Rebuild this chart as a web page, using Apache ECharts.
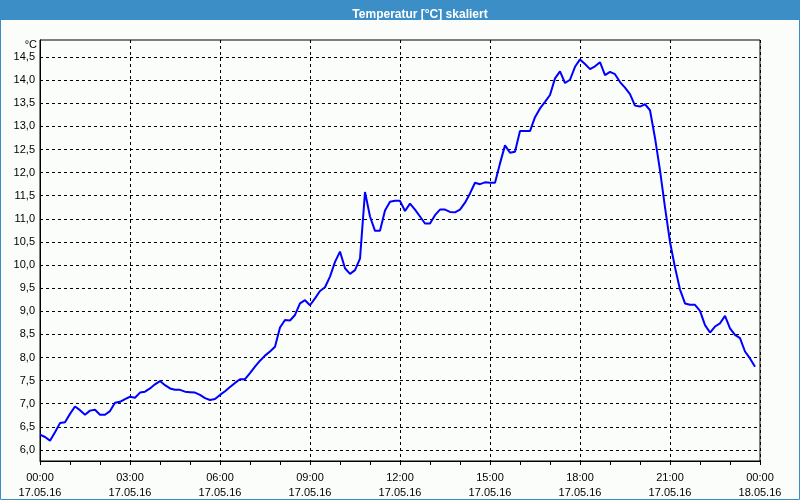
<!DOCTYPE html>
<html>
<head>
<meta charset="utf-8">
<script src="https://cdn.jsdelivr.net/npm/echarts@6/dist/echarts.min.js"></script>
<style>
html,body{margin:0;padding:0;background:#fbfdfb;}
#chart{width:800px;height:500px;}
</style>
</head>
<body>
<div id="chart"></div>
<script>
var titleText = 'Temperatur [°C] skaliert';
var yUnit = '°C';
var times = [
'00:00','00:10','00:20','00:30','00:40','00:50',
'01:00','01:10','01:20','01:30','01:40','01:50',
'02:00','02:10','02:20','02:30','02:40','02:50',
'03:00','03:10','03:20','03:30','03:40','03:50',
'04:00','04:10','04:20','04:30','04:40','04:50',
'05:00','05:10','05:20','05:30','05:40','05:50',
'06:00','06:10','06:20','06:30','06:40','06:50',
'07:00','07:10','07:20','07:30','07:40','07:50',
'08:00','08:10','08:20','08:30','08:40','08:50',
'09:00','09:10','09:20','09:30','09:40','09:50',
'10:00','10:10','10:20','10:30','10:40','10:50',
'11:00','11:10','11:20','11:30','11:40','11:50',
'12:00','12:10','12:20','12:30','12:40','12:50',
'13:00','13:10','13:20','13:30','13:40','13:50',
'14:00','14:10','14:20','14:30','14:40','14:50',
'15:00','15:10','15:20','15:30','15:40','15:50',
'16:00','16:10','16:20','16:30','16:40','16:50',
'17:00','17:10','17:20','17:30','17:40','17:50',
'18:00','18:10','18:20','18:30','18:40','18:50',
'19:00','19:10','19:20','19:30','19:40','19:50',
'20:00','20:10','20:20','20:30','20:40','20:50',
'21:00','21:10','21:20','21:30','21:40','21:50',
'22:00','22:10','22:20','22:30','22:40','22:50',
'23:00','23:10','23:20','23:30','23:40','23:50'
];
var temps = [
6.33,6.28,6.20,6.38,6.58,6.60,
6.78,6.94,6.86,6.76,6.85,6.87,
6.76,6.76,6.84,7.02,7.04,7.10,
7.15,7.13,7.24,7.26,7.33,7.42,
7.49,7.40,7.33,7.30,7.30,7.26,
7.25,7.24,7.19,7.12,7.08,7.10,
7.19,7.27,7.36,7.45,7.53,7.53,
7.66,7.80,7.93,8.04,8.13,8.23,
8.65,8.81,8.80,8.92,9.17,9.24,
9.13,9.28,9.44,9.52,9.75,10.07,
10.29,9.93,9.81,9.89,10.14,11.58,
11.05,10.74,10.74,11.18,11.37,11.39,
11.39,11.17,11.33,11.20,11.05,10.90,
10.90,11.08,11.20,11.20,11.15,11.14,
11.20,11.35,11.55,11.78,11.75,11.79,
11.78,11.78,12.20,12.59,12.43,12.45,
12.90,12.90,12.90,13.20,13.39,13.53,
13.68,14.04,14.19,13.94,14.01,14.29,
14.45,14.35,14.24,14.30,14.39,14.11,
14.18,14.13,13.96,13.84,13.70,13.45,
13.43,13.48,13.35,12.75,12.05,11.25,
10.50,9.95,9.47,9.17,9.14,9.14,
9.01,8.70,8.54,8.67,8.74,8.90,
8.63,8.49,8.42,8.13,7.98,7.80
];
var xTickLabels = [
'00:00\n17.05.16','03:00\n17.05.16','06:00\n17.05.16','09:00\n17.05.16',
'12:00\n17.05.16','15:00\n17.05.16','18:00\n17.05.16','21:00\n17.05.16',
'00:00\n18.05.16'
];
var yTicks = [6.0,6.5,7.0,7.5,8.0,8.5,9.0,9.5,10.0,10.5,11.0,11.5,12.0,12.5,13.0,13.5,14.0,14.5];

function toMin(s){ var p = s.split(':'); return (+p[0])*60 + (+p[1]); }
var seriesData = times.map(function(t,i){ return [toMin(t), temps[i]]; });

var font = 'Liberation Sans, Arial, sans-serif';
var chart = echarts.init(document.getElementById('chart'), null, {renderer:'canvas'});
chart.setOption({
  animation:false,
  backgroundColor:'#fbfdfb',
  title:{
    text:titleText, left:415, top:3, textAlign:'center',
    textStyle:{color:'#ffffff', fontFamily:font, fontSize:12, fontWeight:'bold', lineHeight:14}
  },
  graphic:[
    {type:'rect', z:-1, shape:{x:0,y:0,width:800,height:20}, style:{fill:'#3b8fc6'}},
    {type:'rect', z:-1, shape:{x:0.5,y:0.5,width:799,height:499}, style:{fill:null, stroke:'#3b8fc6', lineWidth:1}}
  ],
  grid:{left:40, right:40, top:40, bottom:39, show:true, borderColor:'#000', borderWidth:1, backgroundColor:'#fbfdfb', containLabel:false, outerBoundsMode:'none'},
  xAxis:{
    type:'value', min:0, max:1440, interval:180,
    axisLine:{show:true, lineStyle:{color:'#000', width:1}},
    axisTick:{show:true, length:4, lineStyle:{color:'#000'}},
    minorTick:{show:true, splitNumber:3, length:4, lineStyle:{color:'#000'}},
    splitLine:{show:true, lineStyle:{color:'#000', type:[3,3], width:1}},
    minorSplitLine:{show:false},
    axisLabel:{
      show:true, margin:9, color:'#000', fontFamily:font, fontSize:11, lineHeight:15,
      showMinLabel:true, showMaxLabel:true, hideOverlap:false,
      formatter:function(v){ return xTickLabels[Math.round(v/180)] || ''; }
    }
  },
  yAxis:{
    type:'value', min:5.76, max:14.87,
    name:yUnit, nameLocation:'end', nameGap:-5,
    nameTextStyle:{color:'#000', fontFamily:font, fontSize:11, align:'right', verticalAlign:'middle', padding:[0,3,0,0]},
    axisLine:{show:true, lineStyle:{color:'#000', width:1}},
    axisTick:{show:false, customValues:yTicks},
    splitLine:{show:true, lineStyle:{color:'#000', type:[3,3], width:1}},
    axisLabel:{
      show:true, margin:5, color:'#000', fontFamily:font, fontSize:11,
      customValues:yTicks,
      formatter:function(v){ return v.toFixed(1).replace('.', ','); }
    }
  },
  series:[{
    type:'line', data:seriesData, showSymbol:false, symbol:'none', smooth:false,
    lineStyle:{color:'#0000ff', width:2}, itemStyle:{color:'#0000ff'}
  }]
});
</script>
</body>
</html>
